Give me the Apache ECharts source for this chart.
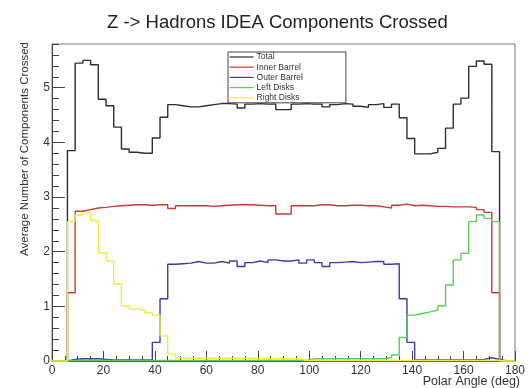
<!DOCTYPE html>
<html>
<head>
<meta charset="utf-8">
<script src="https://cdn.jsdelivr.net/npm/echarts@6/dist/echarts.min.js"></script>
<style>
  html, body { margin: 0; padding: 0; background: #fff; }
  #chart { width: 528px; height: 388px; }
</style>
</head>
<body>
<div id="chart"></div>
<script>
// Histogram binning: 60 bins of 3 degrees over the polar angle 0-180
const binWidth = 3;
const seriesNames = ['Total', 'Inner Barrel', 'Outer Barrel', 'Left Disks', 'Right Disks'];
const xTickLabels = ['0', '20', '40', '60', '80', '100', '120', '140', '160', '180'];
const yTickLabels = ['0', '1', '2', '3', '4', '5'];

// Average number of components crossed per bin
const total = [
  0, 0, 3.85, 5.45, 5.50, 5.42, 4.79, 4.67, 4.28, 3.88, 3.82, 3.80, 3.80, 4.08, 4.46, 4.69,
  4.67, 4.65, 4.65, 4.67, 4.69, 4.71, 4.71, 4.70, 4.63, 4.70,
  4.71, 4.70, 4.70, 4.60, 4.60, 4.70, 4.71, 4.70, 4.70, 4.65,
  4.69, 4.71, 4.70, 4.66, 4.64, 4.69, 4.71, 4.64, 4.70,
  4.45, 4.07, 3.79, 3.79, 3.82, 3.89, 4.26, 4.70, 4.81, 5.39, 5.49, 5.43, 3.83, 0, 0
];
const innerBarrel = [
  0, 0, 1.25, 2.74, 2.77, 2.80, 2.81, 2.83, 2.84, 2.85, 2.86, 2.86, 2.85, 2.86, 2.86, 2.79,
  2.84, 2.84, 2.84, 2.84, 2.83, 2.84, 2.85, 2.86, 2.86, 2.86,
  2.85, 2.84, 2.84, 2.69, 2.69, 2.84, 2.84, 2.84, 2.86, 2.86,
  2.84, 2.84, 2.85, 2.85, 2.84, 2.84, 2.82, 2.80, 2.85,
  2.87, 2.84, 2.85, 2.84, 2.83, 2.83, 2.82, 2.82, 2.82, 2.81, 2.77, 2.72, 1.25, 0, 0
];
const outerBarrel = [
  0, 0, 0.03, 0.04, 0.04, 0.04, 0.03, 0.02, 0.02, 0.02, 0.02, 0.02, 0.02, 0.34, 1.14, 1.77,
  1.78, 1.79, 1.82, 1.79, 1.79, 1.82, 1.79, 1.83, 1.73, 1.80,
  1.83, 1.80, 1.85, 1.83, 1.83, 1.85, 1.79, 1.85, 1.80, 1.73,
  1.80, 1.81, 1.82, 1.80, 1.81, 1.82, 1.82, 1.77, 1.78,
  1.14, 0.34, 0.02, 0.02, 0.02, 0.02, 0.02, 0.02, 0.02, 0.02, 0.03, 0.06, 0.03, 0, 0
];
const leftDisks = [
  0, 0, 0.01, 0.01, 0.01, 0.01, 0.01, 0.01, 0.01, 0.01, 0.01, 0.01, 0.01, 0.01, 0.01, 0.01,
  0.01, 0.01, 0.01, 0.01, 0.01, 0.01, 0.01, 0.01, 0.01, 0.01,
  0.01, 0.01, 0.01, 0.01, 0.01, 0.01, 0.01, 0.04, 0.04, 0.04,
  0.04, 0.04, 0.04, 0.04, 0.04, 0.04, 0.04, 0.06, 0.11,
  0.43, 0.84, 0.87, 0.90, 0.93, 1.01, 1.39, 1.85, 1.97, 2.55, 2.67, 2.61, 2.55, 0, 0
];
const rightDisks = [
  0, 0, 2.55, 2.67, 2.71, 2.57, 1.98, 1.83, 1.41, 1.01, 0.95, 0.93, 0.88, 0.84, 0.46, 0.13,
  0.06, 0.05, 0.05, 0.05, 0.05, 0.05, 0.05, 0.05, 0.05, 0.05,
  0.04, 0.04, 0.04, 0.04, 0.04, 0.04, 0.01, 0.01, 0.01, 0.01,
  0.01, 0.01, 0.01, 0.01, 0.01, 0.01, 0.01, 0.01, 0.01,
  0.01, 0.01, 0.01, 0.01, 0.01, 0.01, 0.01, 0.01, 0.01, 0.01, 0.01, 0.01, 0.01, 0, 0
];

const colors = ['#2e2e2e', '#cc3838', '#3b3bab', '#5acc5a', '#ecec3c'];
const FONT = "'Liberation Sans', Arial, Helvetica, sans-serif";

// Turn bin contents into step-line points: one point per lower bin edge,
// closed with the upper edge of the last bin.
function histPoints(values) {
  const pts = values.map((v, i) => [i * binWidth, v]);
  pts.push([values.length * binWidth, values[values.length - 1]]);
  return pts;
}

const allValues = [total, innerBarrel, outerBarrel, leftDisks, rightDisks];

const chart = echarts.init(document.getElementById('chart'), null, { renderer: 'canvas' });

const series = allValues.map((vals, k) => ({
  name: seriesNames[k],
  type: 'line',
  step: 'end',
  symbol: 'none',
  clip: false,
  animation: false,
  data: histPoints(vals),
  lineStyle: { color: colors[k], width: 1.4 },
  itemStyle: { color: colors[k] },
  z: 2 + k
}));

chart.setOption({
  animation: false,
  backgroundColor: '#ffffff',
  title: {
    text: 'Z -> Hadrons IDEA Components Crossed',
    left: 102,
    top: 8,
    textStyle: { fontFamily: FONT, fontSize: 18.5, fontWeight: 'normal', color: '#222' }
  },
  grid: {
    left: 52, right: 8, top: 44, bottom: 27,
    show: true, borderColor: '#7a7a7a', borderWidth: 1, backgroundColor: 'transparent'
  },
  legend: {
    orient: 'vertical',
    left: 228,
    top: 52,
    data: seriesNames,
    itemWidth: 24,
    itemHeight: 10,
    itemGap: 0.2,
    padding: [0, 43, 0, 1],
    backgroundColor: '#ffffff',
    borderColor: '#444',
    borderWidth: 1,
    selectedMode: false,
    itemStyle: { opacity: 0 },
    lineStyle: { width: 1.2 },
    textStyle: { fontFamily: FONT, fontSize: 8.5, color: '#333', lineHeight: 10, padding: [0, 0, 0, -2] }
  },
  xAxis: {
    type: 'value',
    min: 0,
    max: 180,
    interval: 20,
    axisLine: { show: true, lineStyle: { color: '#444', width: 1 } },
    axisTick: { show: true, inside: true, length: 10, lineStyle: { color: '#444' } },
    minorTick: { show: true, splitNumber: 4, length: 5, lineStyle: { color: '#444' } },
    splitLine: { show: false },
    axisLabel: {
      fontFamily: FONT, fontSize: 12, color: '#333', margin: 4,
      formatter: v => xTickLabels[Math.round(v / 20)] ?? ''
    }
  },
  yAxis: [
    {
      type: 'value',
      min: 0,
      max: 5.8,
      interval: 1,
      position: 'left',
      axisLine: { show: true, lineStyle: { color: '#444', width: 1 } },
      axisTick: { show: true, inside: true, length: 13, lineStyle: { color: '#444' } },
      splitLine: { show: false },
      axisLabel: {
        fontFamily: FONT, fontSize: 12, color: '#333', margin: 2, showMaxLabel: false,
        formatter: v => (Number.isInteger(v) && yTickLabels[v] !== undefined) ? yTickLabels[v] : ''
      }
    },
    {
      type: 'value',
      min: 0,
      max: 5.8,
      interval: 0.2,
      position: 'left',
      axisLine: { show: false },
      axisTick: { show: true, inside: true, length: 7, lineStyle: { color: '#444' } },
      splitLine: { show: false },
      axisLabel: { show: false }
    }
  ],
  graphic: [
    {
      type: 'text',
      x: 25, y: 149,
      rotation: Math.PI / 2,
      style: {
        text: 'Average Number of Components Crossed',
        fontFamily: FONT, fontSize: 11.5, fill: '#333',
        align: 'center', verticalAlign: 'middle'
      }
    },
    {
      type: 'text',
      x: 520, y: 382,
      style: {
        text: 'Polar Angle (deg)',
        fontFamily: FONT, fontSize: 12.5, fill: '#333',
        align: 'right', verticalAlign: 'middle'
      }
    }
  ],
  series: series
});
</script>
</body>
</html>
